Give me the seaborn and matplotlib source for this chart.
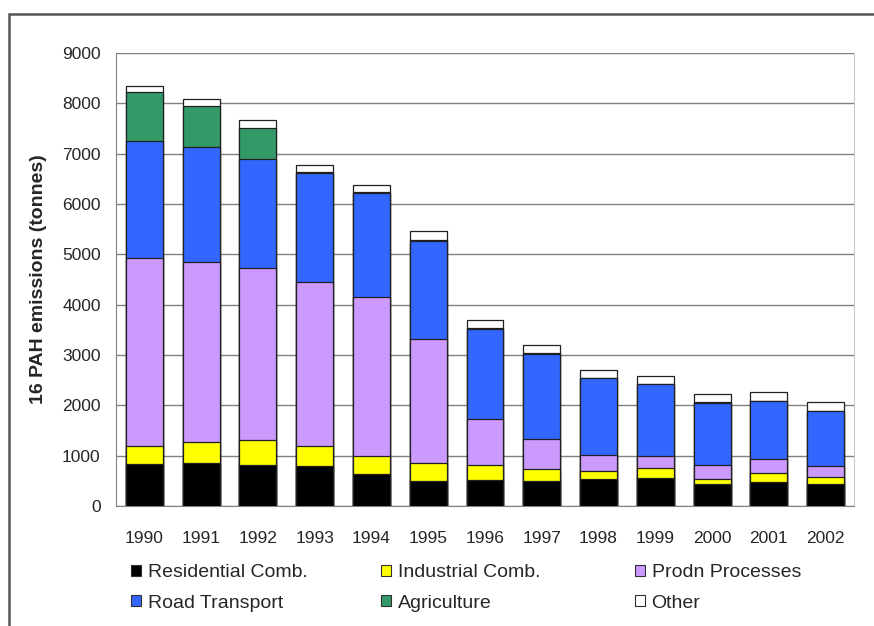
import numpy as np
import pandas as pd
import matplotlib
matplotlib.use('Agg')
import matplotlib.pyplot as plt
from matplotlib.patches import Patch, Rectangle
import seaborn as sns

years = ['1990', '1991', '1992', '1993', '1994', '1995', '1996',
         '1997', '1998', '1999', '2000', '2001', '2002']
residential = [830, 860, 820, 790, 630, 500, 525, 505, 535, 555, 435, 485, 435]
industrial = [370, 405, 495, 410, 370, 345, 290, 230, 170, 200, 100, 165, 150]
prodn = [3735, 3580, 3410, 3260, 3160, 2480, 910, 600, 310, 245, 275, 285, 215]
road = [2325, 2290, 2165, 2155, 2055, 1935, 1800, 1685, 1520, 1420, 1245, 1145, 1085]
agriculture = [965, 805, 615, 30, 20, 15, 10, 10, 10, 10, 10, 10, 10]
other = [120, 155, 155, 120, 140, 180, 165, 160, 165, 145, 165, 175, 165]

series_names = ['Residential Comb.', 'Industrial Comb.', 'Prodn Processes',
                'Road Transport', 'Agriculture', 'Other']
series_colors = ['#000000', '#FFFF00', '#CC99FF', '#3366FF', '#339966', '#FFFFFF']

df = pd.DataFrame({'Year': years,
                   'Residential Comb.': residential,
                   'Industrial Comb.': industrial,
                   'Prodn Processes': prodn,
                   'Road Transport': road,
                   'Agriculture': agriculture,
                   'Other': other})
cum = df[series_names].cumsum(axis=1)

sns.set_style('white')
plt.rcParams['font.family'] = ['Liberation Sans', 'DejaVu Sans']

fig = plt.figure(figsize=(8.74, 6.26), dpi=100)
ax = fig.add_axes([116 / 874, 1 - 506 / 626, (854 - 116) / 874, (506 - 53) / 626])

# draw cumulative layers from the top down so each one covers the next
for name, col in reversed(list(zip(series_names, series_colors))):
    sns.barplot(x=df['Year'], y=cum[name], color=col, saturation=1, width=0.65,
                edgecolor='#202020', linewidth=0.9, ax=ax, zorder=3)

ax.set_ylim(0, 9000)
ax.set_xlim(-0.5, len(years) - 0.5)
ax.set_yticks(range(0, 9001, 1000))
ax.yaxis.grid(True, color='#808080', linewidth=1, zorder=0)
ax.set_axisbelow(True)
ax.set_xticks(np.arange(-0.5, len(years), 1), minor=True)
ax.tick_params(axis='x', which='major', length=0, pad=18, labelsize=12.5)
ax.tick_params(axis='x', which='minor', length=4, color='#808080', direction='out')
ax.tick_params(axis='y', length=4, color='#808080', direction='out', pad=7, labelsize=12.5)
ax.set_xlabel('')
ax.set_ylabel('16 PAH emissions (tonnes)', fontsize=14, fontweight='bold', labelpad=11)

for side in ['left', 'bottom']:
    ax.spines[side].set_color('#808080')
ax.spines['right'].set_color('#C8C8C8')
ax.spines['top'].set_visible(False)

# legend laid out in three fixed columns, like the original
handles = [Patch(facecolor=c, edgecolor='#303030', linewidth=0.8) for c in series_colors]
col_x = [131, 381, 635]
for i, x in enumerate(col_x):
    idx = [i, i + 3]
    fig.legend([handles[j] for j in idx], [series_names[j] for j in idx],
               loc='upper left', bbox_to_anchor=(x / 874, 1 - 564 / 626),
               frameon=False, fontsize=14, handlelength=0.5, handleheight=0.5,
               handletextpad=0.35, labelspacing=0.7, borderpad=0, borderaxespad=0)

# outer chart frame
fig.patches.append(Rectangle((9 / 874, -0.1), 1.2, 1 - 14 / 626 + 0.1, transform=fig.transFigure,
                             fill=False, edgecolor='#555555', linewidth=1.8))

fig.savefig('out.png', dpi=100)
